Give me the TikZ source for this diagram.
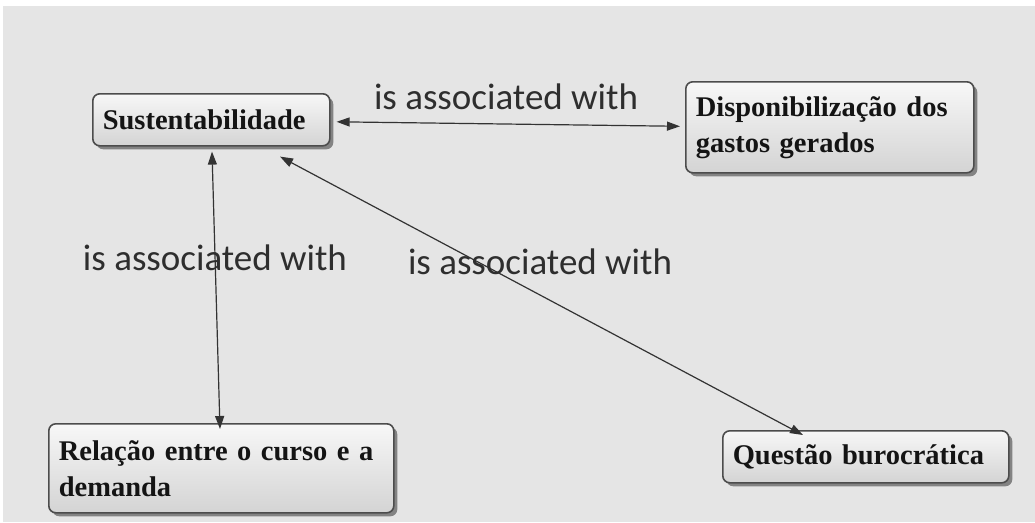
\documentclass[tikz,border=0pt]{standalone}
\usepackage{fontspec}
\setmainfont{Liberation Serif}
\newfontfamily\linkfont{Carlito}
\usetikzlibrary{arrows.meta,shadows,calc}
\begin{document}
\begin{tikzpicture}[x=1pt,y=1pt,
  concept/.style={draw=black!70, line width=1.6pt, rounded corners=7pt,
    top color=black!3, bottom color=black!17,
    drop shadow={shadow xshift=3.5pt, shadow yshift=-3.5pt, fill=black!80, opacity=0.55},
    anchor=north west, inner xsep=10pt, inner ysep=0pt, align=left,
    font=\fontsize{28.5}{36}\selectfont\bfseries, text=black!92},
  link/.style={{Triangle[length=13pt,width=9pt]}-{Triangle[length=13pt,width=9pt]},
    line width=1.2pt, draw=black!80},
  linklabel/.style={font=\linkfont\fontsize{37}{40}\selectfont, text=black!82, inner sep=0pt}]
\useasboundingbox (0,0) rectangle (1035,-522);
\fill[white] (0,0) rectangle (1035,-522);
\fill[black!10] (3,-6) rectangle (1035,-522);

% concepts
\node[concept, minimum width=237pt, minimum height=52pt, text width=217pt] (sus) at (92,-93) {Sustentabilidade};
\node[concept, minimum width=288pt, minimum height=91pt, text width=268pt] (disp) at (685,-81) {Disponibilização dos\\gastos gerados};
\node[concept, minimum width=345pt, minimum height=89pt, text width=325pt] (rel) at (48,-423) {Relação entre o curso e a\\demanda};
\node[concept, minimum width=286pt, minimum height=52pt, text width=266pt] (que) at (722,-430) {Questão burocrática};

% links
\draw[link] ($(sus.east)+(6,-2)$) -- ($(disp.west)+(-5,1)$);
\draw[link] ($(sus.south west)+(120,-5)$) -- ($(rel.north west)+(172,-6)$);
\draw[link] ($(sus.south west)+(188,-10)$) -- ($(que.north west)+(81,-5)$);

% link labels
\node[linklabel] (l1) at (506,-97) {is associated with};
\node[linklabel] (l2) at (215,-258) {is associated with};
\node[linklabel] (l3) at (540,-262) {is associated with};
\end{tikzpicture}
\end{document}
